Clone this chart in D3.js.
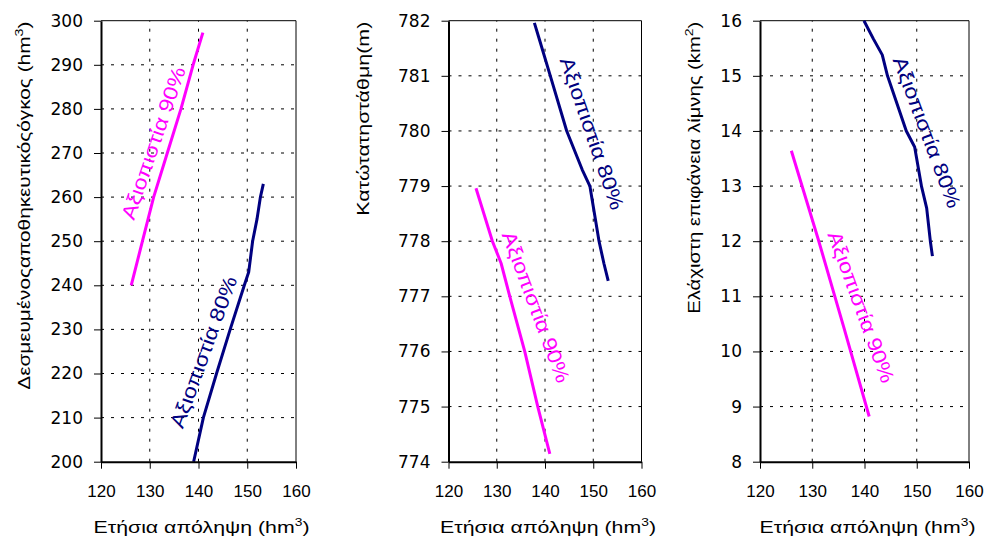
<!DOCTYPE html>
<html lang="el">
<head>
<meta charset="UTF-8">
<title>Αξιοπιστία ταμιευτήρα</title>
<script src="https://d3js.org/d3.v7.min.js"></script>
<style>
  body { margin: 0; background: #fff; }
  svg { display: block; }
</style>
</head>
<body>
<svg id="chart" width="989" height="543"></svg>
<script>
// x axis shared by all three panels
var xTicks = [120, 130, 140, 150, 160];
var xGrid = [130, 140, 150];

// panel 1: reserved storage volume (hm3)
var volTicks = [200, 210, 220, 230, 240, 250, 260, 270, 280, 290, 300];
var vol90x = [126.2, 128.5, 130.8, 133.6, 136.4, 138.9, 140.9];
var vol90y = [240, 250, 260, 270, 280, 290, 297.3];
var vol80x = [139.0, 141.0, 143.7, 146.5, 149.4, 150.3, 151.1, 152.0, 152.7, 153.3];
var vol80y = [200, 210, 220, 230, 240, 243, 250, 255, 260, 263];

// panel 2: minimum level (m)
var levTicks = [774, 775, 776, 777, 778, 779, 780, 781, 782];
var lev80x = [137.8, 138.7, 141.1, 144.5, 147.7, 149.3, 151.2, 152.2, 153.1];
var lev80y = [781.96, 781.7, 781.0, 780.0, 779.3, 779.0, 778.0, 777.6, 777.28];
var lev90x = [125.7, 129.1, 130.9, 132.7, 135.8, 138.5, 141.0];
var lev90y = [778.96, 778.0, 777.6, 777.0, 776.0, 775.0, 774.14];

// panel 3: minimum lake area (km2)
var areaTicks = [8, 9, 10, 11, 12, 13, 14, 15, 16];
var area80x = [139.9, 141.7, 143.4, 144.4, 148.0, 149.6, 150.9, 151.9, 152.6, 153.0];
var area80y = [16.0, 15.67, 15.38, 15.0, 14.0, 13.71, 13.0, 12.6, 12.0, 11.73];
var area90x = [126.0, 131.1, 136.0, 140.9];
var area90y = [13.64, 12.05, 10.45, 8.82];

var label80 = "Αξιοπιστία 80%";
var label90 = "Αξιοπιστία 90%";
var xTitle = "Ετήσια απόληψη (hm";

var navy = "#000080", magenta = "#ff00ff";

function zip(xs, ys) {
  return xs.map(function(x, i) { return [x, ys[i]]; });
}

var panels = [
  { left: 101, right: 296, ticks: volTicks, title: "Δεσμευμένοςαποθηκευτικόςόγκος (hm", sup: "3", titleX: 30, titleLen: 368,
    series: [
      { pts: zip(vol90x, vol90y), color: magenta, label: label90, at: [131.9, 271.8], rot: -71 },
      { pts: zip(vol80x, vol80y), color: navy, label: label80, at: [142.2, 224.4], rot: -70 }
    ] },
  { left: 448.5, right: 641.5, ticks: levTicks, title: "Κατώτατηστάθμη(m)", sup: null, titleX: 369, titleLen: 194,
    series: [
      { pts: zip(lev80x, lev80y), color: navy, label: label80, at: [148.6, 779.92], rot: 71 },
      { pts: zip(lev90x, lev90y), color: magenta, label: label90, at: [137.0, 776.77], rot: 69.5 }
    ] },
  { left: 760, right: 969, ticks: areaTicks, title: "Ελάχιστη επιφάνεια λίμνης (km", sup: "2", titleX: 700, titleLen: 292,
    series: [
      { pts: zip(area80x, area80y), color: navy, label: label80, at: [150.9, 13.94], rot: 69.5 },
      { pts: zip(area90x, area90y), color: magenta, label: label90, at: [138.3, 10.77], rot: 70 }
    ] }
];

var plotTop = 20.7, plotBottom = 461.7;
var svg = d3.select("#chart");

panels.forEach(function(p) {
  var x = d3.scaleLinear().domain([120, 160]).range([p.left, p.right]);
  var y = d3.scaleLinear().domain([p.ticks[0], p.ticks[p.ticks.length - 1]]).range([plotBottom, plotTop]);
  var g = svg.append("g");

  // dotted grid
  g.selectAll(".hg").data(p.ticks.slice(1, -1)).enter().append("line")
    .attr("x1", p.left).attr("x2", p.right)
    .attr("y1", function(d) { return y(d); }).attr("y2", function(d) { return y(d); })
    .style("stroke", "#000").style("stroke-width", 1).style("stroke-dasharray", "3,7");
  g.selectAll(".vg").data(xGrid).enter().append("line")
    .attr("x1", function(d) { return x(d); }).attr("x2", function(d) { return x(d); })
    .attr("y1", plotBottom).attr("y2", plotTop)
    .style("stroke", "#000").style("stroke-width", 1).style("stroke-dasharray", "3,7");

  // top + right frame
  g.append("path")
    .attr("d", "M" + p.left + "," + plotTop + "H" + p.right + "V" + plotBottom)
    .style("fill", "none").style("stroke", "#000").style("stroke-width", 1);

  // lines
  var line = d3.line().x(function(d) { return x(d[0]); }).y(function(d) { return y(d[1]); });
  p.series.forEach(function(s) {
    g.append("path").datum(s.pts).attr("d", line)
      .style("fill", "none").style("stroke", s.color).style("stroke-width", 3)
      .style("stroke-linejoin", "round");
    // label sits beside the curve, pushed off it along the glyphs' "up" side
    g.append("text")
      .attr("transform", "translate(" + x(s.at[0]) + "," + y(s.at[1]) + ") rotate(" + s.rot + ") translate(0,-6)")
      .attr("text-anchor", "middle").attr("dominant-baseline", "central")
      .attr("textLength", 160).attr("lengthAdjust", "spacingAndGlyphs")
      .style("font-family", "'Liberation Sans', Arial, sans-serif").style("font-size", "20px")
      .style("fill", s.color)
      .text(s.label);
  });

  // axes
  var ya = g.append("g").attr("transform", "translate(" + p.left + ",0)")
    .call(d3.axisLeft(y).tickValues(p.ticks).tickSize(7).tickSizeOuter(0).tickPadding(11));
  ya.select(".domain").style("stroke-width", 2);
  ya.selectAll("text").style("font-family", "'DejaVu Sans', Verdana, sans-serif").style("font-size", "17px").style("fill", "#000");

  var xa = g.append("g").attr("transform", "translate(0," + plotBottom + ")")
    .call(d3.axisBottom(x).tickValues(xTicks).tickSize(7).tickSizeOuter(0).tickPadding(16));
  xa.select(".domain").style("stroke-width", 2);
  xa.selectAll("text").style("font-family", "'Liberation Sans', Arial, sans-serif").style("font-size", "17px").style("fill", "#000");

  // x title
  var xt = g.append("text")
    .attr("x", (p.left + p.right) / 2 + 3).attr("y", 533)
    .attr("text-anchor", "middle")
    .attr("textLength", 216).attr("lengthAdjust", "spacingAndGlyphs")
    .style("font-family", "'Liberation Sans', Arial, sans-serif").style("font-size", "17px");
  xt.append("tspan").text(xTitle);
  xt.append("tspan").attr("dy", -7).style("font-size", "11px").text("3");
  xt.append("tspan").attr("dy", 7).text(")");

  // y title
  var yt = g.append("text")
    .attr("transform", "translate(" + p.titleX + "," + (plotTop + 1) + ") rotate(-90)")
    .attr("text-anchor", "end")
    .attr("textLength", p.titleLen).attr("lengthAdjust", "spacingAndGlyphs")
    .style("font-family", "'Liberation Sans', Arial, sans-serif").style("font-size", "16px");
  yt.append("tspan").text(p.title);
  if (p.sup) {
    yt.append("tspan").attr("dy", -7).style("font-size", "11px").text(p.sup);
    yt.append("tspan").attr("dy", 7).text(")");
  }
});
</script>
</body>
</html>
